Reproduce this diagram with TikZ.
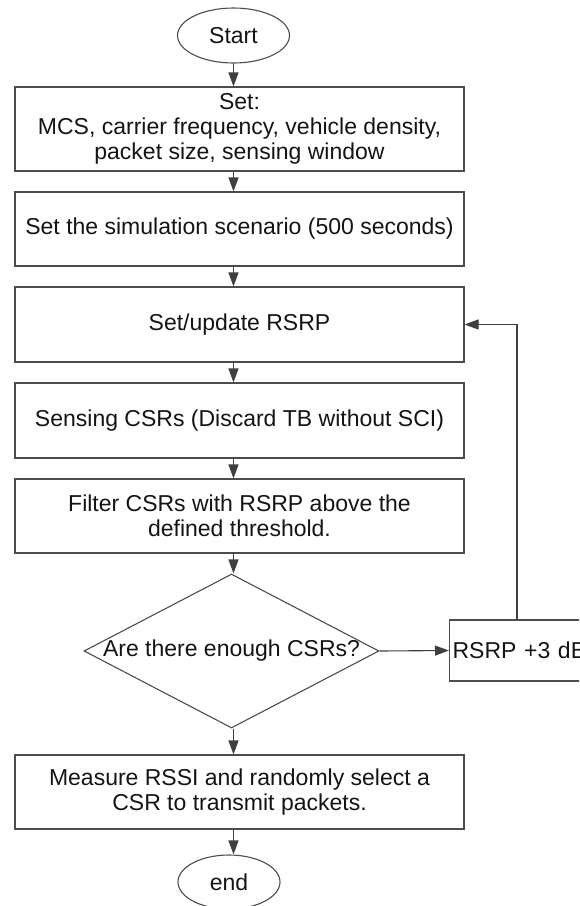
\documentclass[tikz,border=0pt]{standalone}
\usepackage{fontspec}
\setmainfont{Liberation Sans}
\usetikzlibrary{shapes.geometric,arrows.meta}
\begin{document}
\begin{tikzpicture}[x=1pt,y=-1pt,
  line width=1.1pt,
  txt/.style={font=\fontsize{23}{25}\selectfont, text=black!92},
  proc/.style={txt, draw=black!70, rectangle, minimum width=449pt, inner sep=0pt, align=center},
  term/.style={txt, draw=black!70, ellipse, inner sep=0pt},
  flow/.style={draw=black!75, -{Triangle[length=14pt,width=10pt]}}
]
\useasboundingbox (0,0) rectangle (579,906);
\clip (0,0) rectangle (579,906);

\node[term, minimum width=112pt, minimum height=55pt] (start) at (233.5,35.5) {Start};
\node[proc, minimum height=84pt] (b1) at (239.5,129) {Set:\\MCS, carrier frequency, vehicle density,\\packet size, sensing window};
\node[proc, minimum height=74pt] (b2) at (239.5,229) {Set the simulation scenario (500 seconds)};
\node[proc, minimum height=75pt] (b3) at (239.5,324.5) {Set/update RSRP};
\node[proc, minimum height=75pt] (b4) at (239.5,420.5) {Sensing CSRs (Discard TB without SCI)};
\node[proc, minimum height=74pt] (b5) at (239.5,516) {Filter CSRs with RSRP above the\\defined threshold.};
\node[draw=black!70, diamond, minimum width=295pt, minimum height=154pt, inner sep=0pt] (dec) at (231.5,651) {};
\node[txt] (dectext) at (dec.center) {Are there enough CSRs?};
\node[txt, draw=black!70, rectangle, anchor=west, minimum height=61pt, text width=160pt, inner xsep=3pt, inner ysep=0pt, align=left] (rsrp) at (449,650.5) {RSRP +3 dB};
\node[proc, minimum height=74pt] (b6) at (239.5,792) {Measure RSSI and randomly select a\\CSR to transmit packets.};
\node[term, minimum width=102pt, minimum height=54pt] (end) at (229,882) {end};

\coordinate (fb) at (517,0);

\draw[flow] (start.south) -- (start.south |- b1.north);
\draw[flow] (b1.south -| start) -- (b2.north -| start);
\draw[flow] (b2.south -| start) -- (b3.north -| start);
\draw[flow] (b3.south -| start) -- (b4.north -| start);
\draw[flow] (b4.south -| start) -- (b5.north -| start);
\draw[flow] (b5.south -| start) -- (start |- dec.north);
\draw[flow] (start |- dec.south) -- (b6.north -| start);
\draw[flow] (b6.south -| start) -- (start |- end.north);
\draw[flow] (dec.east) -- (rsrp.west);
\draw[flow] (rsrp.north -| fb) -- (fb |- b3.east) -- (b3.east);
\end{tikzpicture}
\end{document}
